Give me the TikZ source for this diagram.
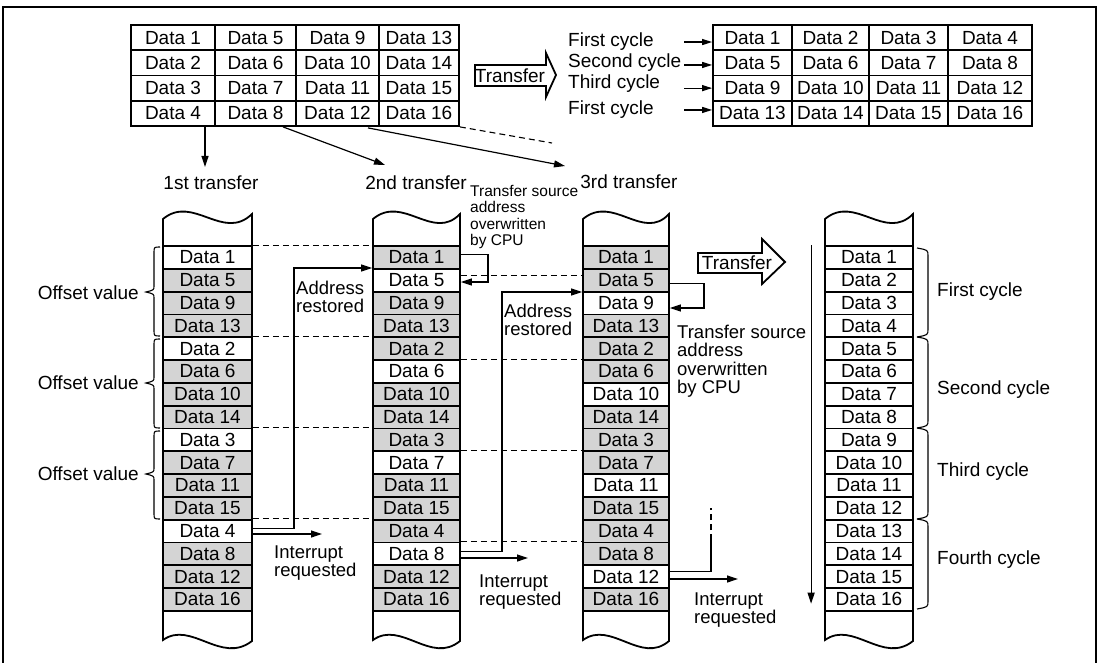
\documentclass[tikz,border=0pt]{standalone}
\usepackage{fontspec}
\setmainfont{Liberation Sans}
\usetikzlibrary{arrows.meta,calc}
\newcommand\dfont{\fontsize{19}{16.5}\selectfont}
\newcommand\lfont{\fontsize{18.5}{18.5}\selectfont}
\newcommand\smallfnt{\fontsize{15.5}{16.5}\selectfont}
\definecolor{cellgray}{gray}{0.83}
\begin{document}
\begin{tikzpicture}[x=1pt,y=-1pt,font=\dfont,
  cell/.style={draw,line width=1.8pt,inner sep=0pt,minimum width=88pt,minimum height=22.8pt},
  tcell/.style={draw,line width=1.8pt,inner sep=0pt,minimum height=25.25pt},
  conn/.style={line width=1.2pt},
  arr/.style={conn,-{Triangle[length=11pt,width=7pt]}},
  sarr/.style={conn,-{Triangle[length=10pt,width=6pt]}},
  dline/.style={line width=1.1pt,dash pattern=on 6pt off 4pt},
  lab/.style={inner sep=0pt,align=left},
  mlab/.style={inner sep=0pt,align=left,font=\lfont},
  colframe/.style={line width=1.8pt},
  hollow/.style={line width=1.8pt,fill=white,line join=miter},
  brc/.style={line width=1.1pt},
]
\useasboundingbox (0,0) rectangle (1100,663);
\draw[line width=2.5pt] (3,663) -- (3,7) -- (1096,7) -- (1096,663);

% ---------- top-left table
\foreach \c/\xc/\w in {0/173/84,1/255.5/81,2/337.5/83,3/419/80}{
  \foreach \r in {0,...,3}{
    \pgfmathtruncatemacro\n{4*\c+\r+1}
    \node[tcell,minimum width={\w pt}] (tl\r\c) at (\xc,{37.625+25.25*\r}) {Data \n};
  }
}
% ---------- top-right table
\foreach \c/\xc/\w in {0/752.5/79,1/830.5/77,2/908.5/79,3/990/84}{
  \foreach \r in {0,...,3}{
    \pgfmathtruncatemacro\n{4*\r+\c+1}
    \node[tcell,minimum width={\w pt}] (tr\r\c) at (\xc,{37.625+25.25*\r}) {Data \n};
  }
}

% big transfer arrow (top)
\draw[hollow] (475,65) -- (546,65) -- (546,53) -- (556,75) -- (546,97) -- (546,86) -- (475,86) -- cycle;
\node[lab] (tx1) at (510,76) {Transfer};

% cycle labels top right
\node[lab,anchor=west] (fcA) at (568,42) {First cycle};
\node[lab,anchor=west] (fcB) at (568,63) {Second cycle};
\node[lab,anchor=west] (fcC) at (568,84) {Third cycle};
\node[lab,anchor=west] (fcD) at (568,110) {First cycle};
\draw[sarr] ([xshift=-28pt,yshift=-4.4pt]tr00.west) -- ([yshift=-4.4pt]tr00.west);
\draw[sarr] ([xshift=-28pt,yshift=-2.1pt]tr10.west) -- ([yshift=-2.1pt]tr10.west);
\draw[sarr] ([xshift=-28pt]tr20.west) -- (tr20.west);
\draw[sarr] ([xshift=-28pt,yshift=3.4pt]tr30.west) -- ([yshift=3.4pt]tr30.west);

% arrows to transfers
\coordinate (e1) at (205,167);
\coordinate (e2) at (385,165);
\coordinate (e3) at (565,166);
\coordinate (e4) at (552,143);
\draw[arr] (tl30.south -| e1) -- (e1);
\draw[arr] ([xshift=27.5pt]tl31.south) -- (e2);
\draw[arr] ([xshift=30.5pt,yshift=-1pt]tl32.south) -- (e3);
\draw[dline] (tl33.south east) -- (e4);

\node[lab] (t1) at (211,183) {1st transfer};
\node[lab] (t2) at (416,183) {2nd transfer};
\node[lab] (t3) at (629,182) {3rd transfer};
\node[lab,anchor=west,font=\smallfnt] (ow1) at (470,217) {Transfer source\\address\\overwritten\\by CPU};

% ---------- memory columns
\foreach \L/\R in {163/252,373/460,583/669,825/913}{
  \draw[colframe] (\L,247) -- (\L,219) .. controls ({\L+30},194) and ({\L+60},242) .. (\R,214) -- (\R,247);
  \draw[colframe] (\L,610) -- (\L,640) .. controls ({\L+28},620) and ({\L+58},665) .. (\R,641) -- (\R,610);
}
\foreach \v [count=\i from 0] in {1,5,9,13,2,6,10,14,3,7,11,15,4,8,12,16}{
  \pgfmathtruncatemacro\m{mod(\i,4)}
  \ifnum\m=0 \def\fillA{white}\else\def\fillA{cellgray}\fi
  \ifnum\m=1 \def\fillB{white}\else\def\fillB{cellgray}\fi
  \ifnum\m=2 \def\fillC{white}\else\def\fillC{cellgray}\fi
  \node[cell,fill=\fillA,minimum width=89pt] (a\i) at (207.5,{257.4+22.8*\i}) {Data \v};
  \node[cell,fill=\fillB,minimum width=87pt] (b\i) at (416.5,{257.4+22.8*\i}) {Data \v};
  \node[cell,fill=\fillC,minimum width=86pt] (c\i) at (626,{257.4+22.8*\i}) {Data \v};
}
\foreach \i in {0,...,15}{
  \pgfmathtruncatemacro\v{\i+1}
  \node[cell,fill=white] (d\i) at (869,{257.4+22.8*\i}) {Data \v};
}

% dashed guide lines
\foreach \k in {0,4,8,12} \draw[dline] (a\k.north east) -- (b\k.north west);
\foreach \k in {5,9,13} \draw[dline] (b\k.north east) -- (c\k.north west);
\draw[dline] ([yshift=5pt]b1.east) -- ([yshift=5pt]c1.west);

% offset braces
\foreach \T/\M/\B in {247/292/336, 339/383/428, 431/474/519}{
  \draw[brc] (160,\T) .. controls (154,\T) .. (154,{\T+6}) -- (154,{\M-6}) .. controls (154,{\M-2}) .. (146,\M)
     .. controls (154,{\M+2}) .. (154,{\M+6}) -- (154,{\B-6}) .. controls (154,\B) .. (160,\B);
}
\node[lab,anchor=east] (ov1) at (139,293) {Offset value};
\node[lab,anchor=east] (ov2) at (139,383) {Offset value};
\node[lab,anchor=east] (ov3) at (139,474) {Offset value};

% overwritten loops
\coordinate (k1) at (488,282);
\draw[arr] ([yshift=3pt]b0.east) -| (k1) -- (k1 -| b1.east);
\coordinate (k2) at (704,308);
\draw[arr] ([yshift=-3pt]c1.east) -| (k2) -- (k2 -| c2.east);
\node[mlab,anchor=west] (ow2) at (677,361) {Transfer source\\address\\overwritten\\by CPU};

% address restored
\coordinate (r1) at (294,268);
\draw[arr] ([yshift=2.5pt]a12.east) -| (r1) -- (r1 -| b0.west);
\node[mlab,anchor=west] (ar1) at (296,297) {Address\\restored};
\coordinate (r2) at (502,292);
\draw[arr] ([yshift=2.5pt]b13.east) -| (r2) -- (r2 -| c1.west);
\node[mlab,anchor=west] (ar2) at (504,320) {Address\\restored};

% third column loop going on
\coordinate (q1) at (711,540);
\coordinate (q2) at (711,508);
\draw[conn] ([yshift=5pt]c14.east) -| (q1);
\draw[dline] (q1) -- (q2);

% interrupts
\coordinate (i1) at (322,534);
\coordinate (i2) at (528,558);
\coordinate (i3) at (738,579);
\draw[arr] (a12.east |- i1) -- (i1);
\draw[arr] (b13.east |- i2) -- (i2);
\draw[arr] (c14.east |- i3) -- (i3);
\node[mlab,anchor=west] (ir1) at (274,563) {Interrupt\\requested};
\node[mlab,anchor=west] (ir2) at (479,592) {Interrupt\\requested};
\node[mlab,anchor=west] (ir3) at (694,610) {Interrupt\\requested};

% second transfer arrow
\draw[hollow] (698,253) -- (762,253) -- (762,239) -- (785,262) -- (762,284) -- (762,273) -- (698,273) -- cycle;
\node[lab] (tx2) at (737,263) {Transfer};

% sequence arrow
\draw[arr] ([xshift=-13pt]d0.north west) -- ([xshift=-13pt,yshift=8pt]d15.south west);

% cycle braces right
\foreach \T/\B in {248/337, 337/428, 428/519, 519/609}{
  \draw[brc] (917,\T) .. controls (928,{\T+2}) .. (928,{\T+8}) -- (928,{\B-8}) .. controls (928,{\B-2}) .. (917,\B);
}
\node[lab,anchor=west] (cy1) at (937,292) {First cycle};
\node[lab,anchor=west] (cy2) at (937,390) {Second cycle};
\node[lab,anchor=west] (cy3) at (937,472) {Third cycle};
\node[lab,anchor=west] (cy4) at (937,560) {Fourth cycle};
\end{tikzpicture}
\end{document}
